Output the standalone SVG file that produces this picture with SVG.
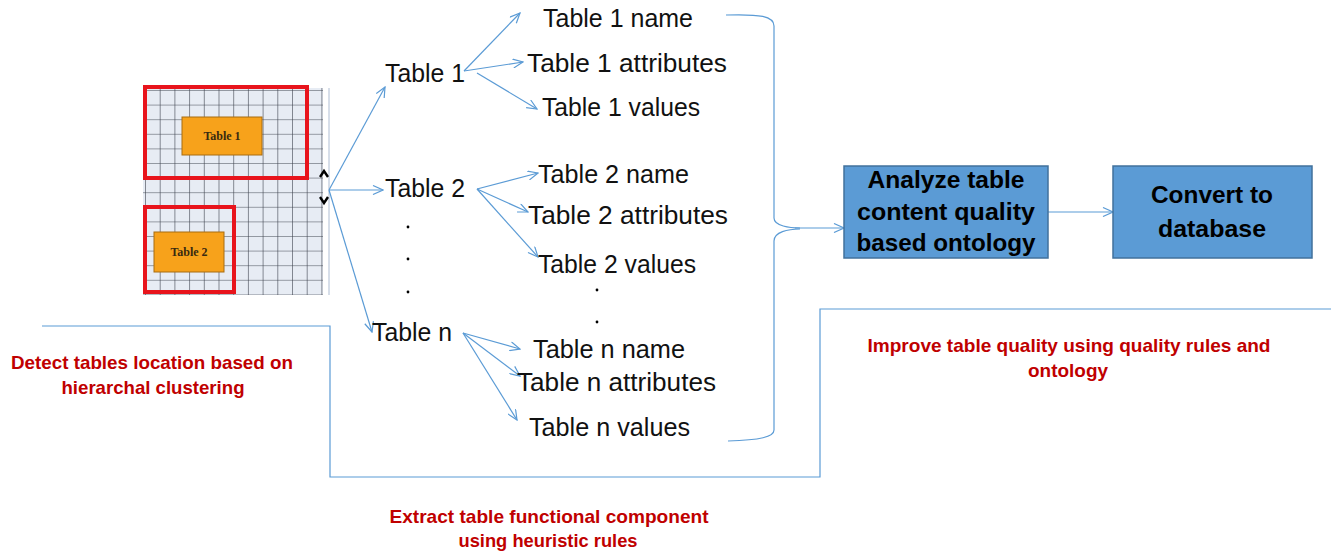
<svg xmlns="http://www.w3.org/2000/svg" width="1339" height="556" viewBox="0 0 1339 556">
<defs>
<marker id="ah" markerWidth="12" markerHeight="10" refX="11" refY="5" orient="auto" markerUnits="userSpaceOnUse">
<path d="M1,0.5 L11,5 L1,9.5" fill="none" stroke="#5b9bd5" stroke-width="1.2"/>
</marker>
<pattern id="grid" x="145" y="90" width="14.7" height="14.6" patternUnits="userSpaceOnUse">
<path d="M0,0 V14.6 M0,0 H14.7" fill="none" stroke="#3e434e" stroke-width="1.2"/>
</pattern>
</defs>
<style>
text{lengthAdjust:spacingAndGlyphs;}
.t{font-family:"Liberation Sans",Arial,sans-serif;font-size:26px;fill:#111;}
.b{font-family:"Liberation Sans",Arial,sans-serif;font-size:24px;font-weight:bold;fill:#000;text-anchor:middle;}
.r{font-family:"Liberation Sans",Arial,sans-serif;font-size:19px;font-weight:bold;fill:#c00000;text-anchor:middle;}
.c{fill:none;stroke:#5b9bd5;stroke-width:1.2;}
.a{fill:none;stroke:#5b9bd5;stroke-width:1.2;marker-end:url(#ah);}
.box{fill:#5b9bd5;stroke:#41719c;stroke-width:1.5;}
.red{fill:none;stroke:#e8141c;stroke-width:4;}
.or{fill:#f7a21b;stroke:#a86d10;stroke-width:1;}
.ot{font-family:"Liberation Serif","Times New Roman",serif;font-size:12px;font-weight:bold;fill:#3a2a10;text-anchor:middle;}
</style>

<g id="page-image">
<rect x="143" y="88" width="180" height="207" fill="#e7ecf4"/>
<rect x="143" y="88" width="180" height="207" fill="url(#grid)"/>
<line x1="329" y1="88" x2="329" y2="295" stroke="#aebdd3" stroke-width="1"/>
<rect class="red" x="145" y="87" width="162" height="91"/>
<rect class="red" x="145" y="207" width="89" height="85"/>
<rect class="or" x="182" y="117" width="80" height="38"/>
<text class="ot" x="222" y="140">Table 1</text>
<rect class="or" x="154" y="232" width="70" height="40"/>
<text class="ot" x="189" y="256">Table 2</text>
<path d="M320,177 L324,171 L328,177 M320,197 L324,203 L328,197" fill="none" stroke="#000" stroke-width="2.4"/>
</g>

<g id="connectors">
<path class="a" d="M329,190 L385,87"/>
<path class="a" d="M329,190 L383,190"/>
<path class="a" d="M329,190 L372,332"/>
<path class="a" d="M464,71 L520,13"/>
<path class="a" d="M464,71 L523,62"/>
<path class="a" d="M477,73 L537,109"/>
<path class="a" d="M477,189 L538,173"/>
<path class="a" d="M477,189 L528,212"/>
<path class="a" d="M477,189 L538,257"/>
<path class="a" d="M463,333 L520,349"/>
<path class="a" d="M463,333 L520,376"/>
<path class="a" d="M463,333 L517,420"/>
<path class="c" d="M726,15 C760,14 774,16 774,26 L774,218 C774,226 790,228 800,228"/>
<path class="c" d="M800,229 C788,229 774,232 774,241 L774,430 C774,437 760,440 728,441"/>
<path class="a" d="M795,228 L844,228"/>
<path class="a" d="M1048,212 L1113,212"/>
<path class="c" d="M42,326 H330 V477 H820 V309 H1331"/>
</g>

<g id="table1"><text class="t" x="385" y="82" textLength="80" lengthAdjust="spacingAndGlyphs">Table 1</text></g>
<g id="table1-name"><text class="t" x="543" y="27" textLength="150" lengthAdjust="spacingAndGlyphs">Table 1 name</text></g>
<g id="table1-attributes"><text class="t" x="527" y="72" textLength="200" lengthAdjust="spacingAndGlyphs">Table 1 attributes</text></g>
<g id="table1-values"><text class="t" x="542" y="116" textLength="158" lengthAdjust="spacingAndGlyphs">Table 1 values</text></g>
<g id="table2"><text class="t" x="385" y="197" textLength="80" lengthAdjust="spacingAndGlyphs">Table 2</text></g>
<g id="table2-name"><text class="t" x="538" y="183" textLength="151" lengthAdjust="spacingAndGlyphs">Table 2 name</text></g>
<g id="table2-attributes"><text class="t" x="528" y="224" textLength="200" lengthAdjust="spacingAndGlyphs">Table 2 attributes</text></g>
<g id="table2-values"><text class="t" x="538" y="273" textLength="158" lengthAdjust="spacingAndGlyphs">Table 2 values</text></g>
<g id="tablen"><text class="t" x="372" y="341" textLength="80" lengthAdjust="spacingAndGlyphs">Table n</text></g>
<g id="tablen-name"><text class="t" x="533" y="358" textLength="152" lengthAdjust="spacingAndGlyphs">Table n name</text></g>
<g id="tablen-attributes"><text class="t" x="517" y="391" textLength="199" lengthAdjust="spacingAndGlyphs">Table n attributes</text></g>
<g id="tablen-values"><text class="t" x="529" y="436" textLength="161" lengthAdjust="spacingAndGlyphs">Table n values</text></g>

<g id="dots" fill="#000">
<circle cx="408" cy="227" r="1.4"/>
<circle cx="408" cy="259" r="1.4"/>
<circle cx="408" cy="292" r="1.4"/>
<circle cx="597" cy="290" r="1.4"/>
<circle cx="597" cy="322" r="1.4"/>
</g>

<g id="analyze">
<rect class="box" x="844" y="166" width="204" height="92"/>
<text class="b" x="946" y="188" textLength="157" lengthAdjust="spacingAndGlyphs">Analyze table</text>
<text class="b" x="946" y="220" textLength="178" lengthAdjust="spacingAndGlyphs">content quality</text>
<text class="b" x="946" y="251" textLength="179" lengthAdjust="spacingAndGlyphs">based ontology</text>
</g>

<g id="convert">
<rect class="box" x="1113" y="166" width="199" height="92"/>
<text class="b" x="1212" y="203" textLength="122" lengthAdjust="spacingAndGlyphs">Convert to</text>
<text class="b" x="1212" y="237" textLength="108" lengthAdjust="spacingAndGlyphs">database</text>
</g>

<g id="label-detect">
<text class="r" x="152" y="369" textLength="282" lengthAdjust="spacingAndGlyphs">Detect tables location based on</text>
<text class="r" x="153" y="394" textLength="183" lengthAdjust="spacingAndGlyphs">hierarchal clustering</text>
</g>
<g id="label-extract">
<text class="r" x="549" y="523" textLength="319" lengthAdjust="spacingAndGlyphs">Extract table functional component</text>
<text class="r" x="548" y="547" textLength="179" lengthAdjust="spacingAndGlyphs">using heuristic rules</text>
</g>
<g id="label-improve">
<text class="r" x="1069" y="352" textLength="403" lengthAdjust="spacingAndGlyphs">Improve table quality using quality rules and</text>
<text class="r" x="1068" y="377" textLength="80" lengthAdjust="spacingAndGlyphs">ontology</text>
</g>
</svg>
